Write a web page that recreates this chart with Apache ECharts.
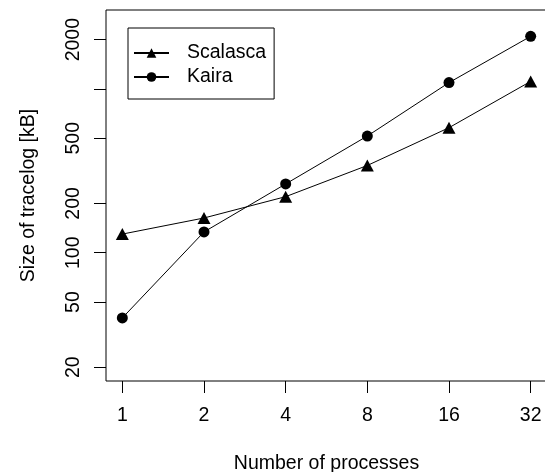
<!DOCTYPE html>
<html>
<head>
<meta charset="utf-8">
<script src="https://cdn.jsdelivr.net/npm/echarts@6/dist/echarts.min.js"></script>
<style>
html,body{margin:0;padding:0;background:#fff;}
#chart{width:545px;height:472px;}
</style>
</head>
<body>
<div id="chart"></div>
<script>
const processes = [1, 2, 4, 8, 16, 32];
const scalasca = [130, 163, 220, 341, 580, 1112];
const kaira = [40, 134, 263, 516, 1093, 2095];
const xTicks = [1, 2, 4, 8, 16, 32];
const yTicks = [20, 50, 100, 200, 500, 1000, 2000];
const yLabels = [20, 50, 100, 200, 500, 2000];

const FONT = '"Liberation Sans", Arial, Helvetica, sans-serif';
const FS = 19.5;
const chart = echarts.init(document.getElementById('chart'), null, {renderer: 'canvas'});

function pairs(xs, ys) { return xs.map((x, i) => [x, ys[i]]); }

const option = {
  animation: false,
  backgroundColor: '#fff',
  textStyle: {fontFamily: FONT, color: '#000'},
  grid: {
    left: 106, right: -2, top: 10, bottom: 91,
    outerBoundsMode: 'none', containLabel: false,
    show: true, borderColor: '#000', borderWidth: 1, backgroundColor: 'transparent'
  },
  legend: {
    orient: 'vertical',
    left: 128, top: 28,
    backgroundColor: '#fff',
    borderColor: '#000', borderWidth: 1,
    padding: [15, 8, 12, 5],
    itemWidth: 35, itemHeight: 12, itemGap: 4,
    textStyle: {fontFamily: FONT, fontSize: FS, color: '#000', lineHeight: 19.5, padding: [0, 0, 0, 13]},
    data: ['Scalasca', 'Kaira']
  },
  xAxis: {
    type: 'log', logBase: 2,
    min: Math.pow(2, -0.2), max: Math.pow(2, 5.2),
    name: 'Number of processes', nameLocation: 'middle', nameGap: 73,
    nameTextStyle: {fontFamily: FONT, fontSize: FS, color: '#000'},
    axisLine: {show: false},
    axisTick: {show: true, inside: false, length: 12, lineStyle: {color: '#000', width: 1}, customValues: xTicks},
    axisLabel: {fontFamily: FONT, fontSize: FS, color: '#000', margin: 25, customValues: xTicks,
      formatter: v => String(v)},
    splitLine: {show: false}
  },
  yAxis: {
    type: 'log', logBase: 10,
    min: 16.48, max: 3034,
    name: 'Size of tracelog [kB]', nameLocation: 'middle', nameGap: 67, nameRotate: 90,
    nameTextStyle: {fontFamily: FONT, fontSize: FS, color: '#000'},
    axisLine: {show: false},
    axisTick: {show: true, inside: false, length: 12, lineStyle: {color: '#000', width: 1}, customValues: yTicks},
    axisLabel: {fontFamily: FONT, fontSize: FS, color: '#000', margin: 22, rotate: 90, customValues: yLabels,
      formatter: v => String(v)},
    splitLine: {show: false}
  },
  series: [
    {
      name: 'Scalasca', type: 'line', data: pairs(processes, scalasca),
      symbol: 'triangle', symbolSize: [13, 12], showSymbol: true,
      lineStyle: {color: '#000', width: 1}, itemStyle: {color: '#000'}
    },
    {
      name: 'Kaira', type: 'line', data: pairs(processes, kaira),
      symbol: 'circle', symbolSize: 11, showSymbol: true,
      lineStyle: {color: '#000', width: 1}, itemStyle: {color: '#000'}
    }
  ]
};
chart.setOption(option);
</script>
</body>
</html>
